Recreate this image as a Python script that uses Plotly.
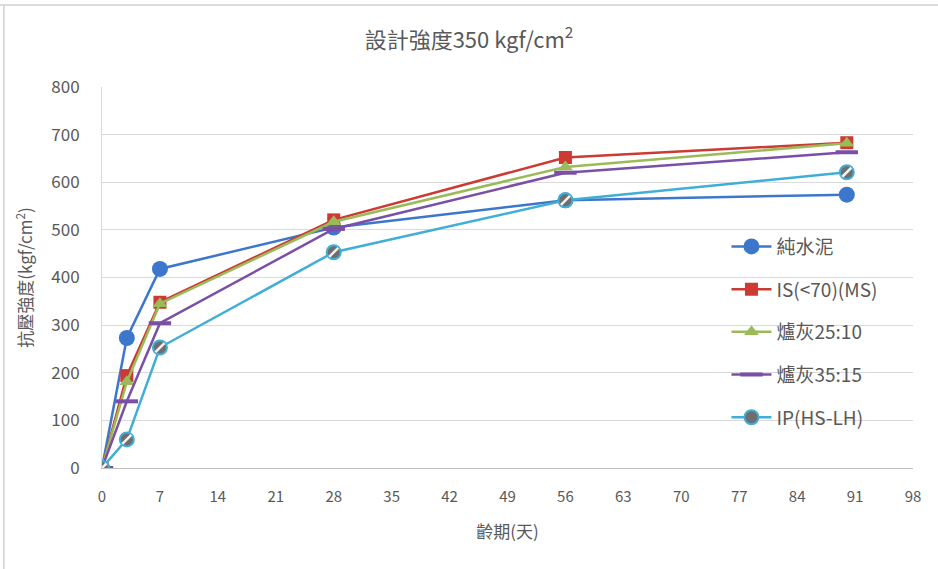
import plotly.graph_objects as go

# Curing age (days) and compressive strength (kgf/cm2) per mix
ages = [0, 3, 7, 28, 56, 90]
series_names = ["純水泥", "IS(<70)(MS)", "爐灰25:10", "爐灰35:15", "IP(HS-LH)"]
plain_cement = [0, 273, 418, 505, 562, 574]
is_ms = [0, 194, 348, 521, 652, 683]
slag_25_10 = [0, 181, 345, 517, 632, 682]
slag_35_15 = [0, 140, 304, 502, 620, 663]
ip_hs_lh = [0, 60, 253, 453, 562, 621]
x_ticks = list(range(0, 99, 7))
y_ticks = list(range(0, 801, 100))

TEXT = "#595959"
FONT = "Noto Sans CJK TC"

fig = go.Figure()

styles = [
    (plain_cement, "#3D77CC", dict(symbol="circle", size=16)),
    (is_ms, "#CC3B33", dict(symbol="square", size=13)),
    (slag_25_10, "#9BBB59", dict(symbol="triangle-up", size=13)),
    (slag_35_15, "#7A4FA6", dict(symbol="line-ew", size=16,
                                 line=dict(width=4, color="#7A4FA6"))),
]
for name, (vals, col, mk) in zip(series_names[:4], styles):
    mk = dict(mk)
    mk.setdefault("color", col)
    mk.setdefault("line", dict(width=0, color=col))
    fig.add_trace(go.Scatter(
        x=ages, y=vals, name=name, mode="lines+markers",
        line=dict(color=col, width=2.5), marker=mk,
        legendgroup=name,
    ))

# Hatched circle markers for IP(HS-LH): filled circle plus diagonal stroke
cyan = "#41AED6"
fig.add_trace(go.Scatter(
    x=ages, y=ip_hs_lh, name=series_names[4], mode="lines+markers",
    line=dict(color=cyan, width=2.5),
    marker=dict(symbol="circle", size=14, color="#6E6E6E",
                line=dict(width=2, color=cyan)),
    legendgroup=series_names[4],
))
fig.add_trace(go.Scatter(
    x=ages, y=ip_hs_lh, mode="markers", showlegend=False,
    legendgroup=series_names[4], hoverinfo="skip",
    marker=dict(symbol="line-ne", size=9, color="white",
                line=dict(width=2.5, color="#F2F2F2")),
))

fig.update_layout(
    width=938, height=569,
    margin=dict(l=102, r=25, t=87, b=101),
    paper_bgcolor="white", plot_bgcolor="white",
    font=dict(family=FONT, color=TEXT, size=14),
    title=dict(text="設計強度350 kgf/cm<sup>2</sup>", x=0.5, xanchor="center",
               y=0.93, yanchor="middle",
               font=dict(family=FONT, size=22, color=TEXT)),
    xaxis=dict(range=[0, 98], tickvals=x_ticks, showgrid=False,
               showline=True, linecolor="#BFBFBF", linewidth=1,
               zeroline=False, ticks="", ticklabelstandoff=15,
               tickfont=dict(size=15, color=TEXT),
               title=dict(text="齡期(天)", font=dict(size=17, color=TEXT),
                          standoff=21)),
    yaxis=dict(range=[0, 800], tickvals=y_ticks, showgrid=True,
               gridcolor="#DADADA", gridwidth=1, showline=True,
               linecolor="#D9D9D9", zeroline=False, ticks="",
               ticklabelstandoff=18,
               tickfont=dict(size=17, color=TEXT),
               title=dict(text="抗壓強度(kgf/cm<sup>2</sup>)",
                          font=dict(size=17, color=TEXT), standoff=14)),
    legend=dict(x=0.77, y=0.631, xanchor="left", yanchor="top",
                bgcolor="rgba(0,0,0,0)", tracegroupgap=15,
                font=dict(size=19, color=TEXT), itemwidth=40),
    showlegend=True,
    shapes=[
        dict(type="line", xref="paper", yref="paper",
             x0=-0.126, x1=1.04, y0=1.215, y1=1.215,
             line=dict(color="#D0D0D0", width=1.5)),
        dict(type="line", xref="paper", yref="paper",
             x0=-0.121, x1=-0.121, y0=-0.27, y1=1.215,
             line=dict(color="#D0D0D0", width=1.5)),
    ],
)

fig.write_html("out.html")
